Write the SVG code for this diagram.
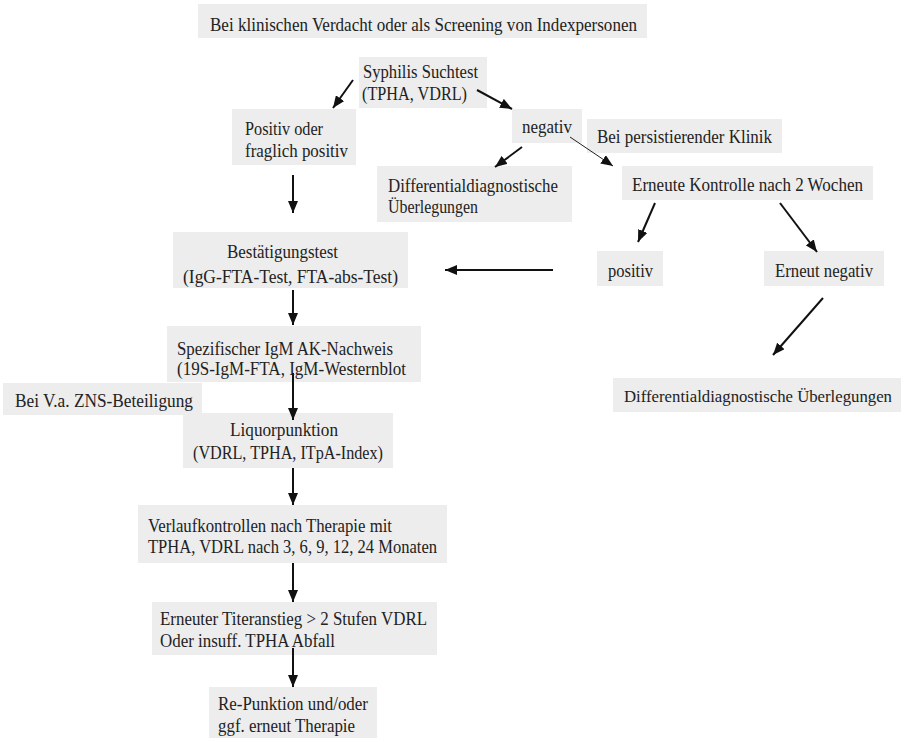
<svg xmlns="http://www.w3.org/2000/svg" width="907" height="742" viewBox="0 0 907 742">
<style>
  .bg { fill: #ffffff; }
  .box { fill: #ededed; }
  .t { font-family: "Liberation Serif", "Times New Roman", serif; font-size: 19px; fill: #222222; }
  .c { stroke: #111111; stroke-width: 2; fill: none; }
  .thin { stroke: #222222; stroke-width: 1; fill: none; }
</style>
<defs>
  <marker id="ah" viewBox="0 0 12 10" refX="12" refY="5" markerWidth="12" markerHeight="10" markerUnits="userSpaceOnUse" orient="auto">
    <path d="M0,0 L12,5 L0,10 z" fill="#111111"/>
  </marker>
</defs>
<rect class="bg" x="0" y="0" width="907" height="742"/>

<g id="title">
  <rect class="box" x="198" y="4" width="449" height="34"/>
  <text class="t" x="210" y="31" textLength="427" lengthAdjust="spacingAndGlyphs">Bei klinischen Verdacht oder als Screening von Indexpersonen</text>
</g>
<g id="suchtest">
  <rect class="box" x="359" y="57" width="128" height="51"/>
  <text class="t" x="363" y="78" textLength="115" lengthAdjust="spacingAndGlyphs">Syphilis Suchtest</text>
  <text class="t" x="362" y="100" textLength="105" lengthAdjust="spacingAndGlyphs">(TPHA, VDRL)</text>
</g>
<g id="positiv-fraglich">
  <rect class="box" x="232" y="109" width="124" height="56"/>
  <text class="t" x="245" y="135" textLength="78" lengthAdjust="spacingAndGlyphs">Positiv oder</text>
  <text class="t" x="245" y="157" textLength="103" lengthAdjust="spacingAndGlyphs">fraglich positiv</text>
</g>
<g id="negativ">
  <rect class="box" x="512" y="109" width="70" height="34"/>
  <text class="t" x="522" y="133" textLength="50" lengthAdjust="spacingAndGlyphs">negativ</text>
</g>
<g id="persistierend">
  <rect class="box" x="587" y="119" width="195" height="34"/>
  <text class="t" x="597" y="143" textLength="175" lengthAdjust="spacingAndGlyphs">Bei persistierender Klinik</text>
</g>
<g id="diff-links">
  <rect class="box" x="377" y="166" width="195" height="56"/>
  <text class="t" x="388" y="192" textLength="170" lengthAdjust="spacingAndGlyphs">Differentialdiagnostische</text>
  <text class="t" x="388" y="213" textLength="90" lengthAdjust="spacingAndGlyphs">Überlegungen</text>
</g>
<g id="kontrolle">
  <rect class="box" x="622" y="166" width="251" height="34"/>
  <text class="t" x="632" y="191" textLength="231" lengthAdjust="spacingAndGlyphs">Erneute Kontrolle nach 2 Wochen</text>
</g>
<g id="positiv">
  <rect class="box" x="597" y="251" width="66" height="35"/>
  <text class="t" x="608" y="277" textLength="45" lengthAdjust="spacingAndGlyphs">positiv</text>
</g>
<g id="erneut-negativ">
  <rect class="box" x="764" y="251" width="120" height="35"/>
  <text class="t" x="775" y="277" textLength="98" lengthAdjust="spacingAndGlyphs">Erneut negativ</text>
</g>
<g id="diff-rechts">
  <rect class="box" x="613" y="378" width="288" height="34"/>
  <text class="t" x="624" y="402" style="font-size:17.5px" textLength="268" lengthAdjust="spacingAndGlyphs">Differentialdiagnostische Überlegungen</text>
</g>
<g id="bestaetigung">
  <rect class="box" x="173" y="232" width="235" height="56"/>
  <text class="t" x="227" y="258" textLength="111" lengthAdjust="spacingAndGlyphs">Bestätigungstest</text>
  <text class="t" x="183" y="283" textLength="215" lengthAdjust="spacingAndGlyphs">(IgG-FTA-Test, FTA-abs-Test)</text>
</g>
<g id="spezifisch">
  <rect class="box" x="167" y="326" width="254" height="56"/>
  <text class="t" x="177" y="355" textLength="216" lengthAdjust="spacingAndGlyphs">Spezifischer IgM AK-Nachweis</text>
  <text class="t" x="177" y="375" textLength="229" lengthAdjust="spacingAndGlyphs">(19S-IgM-FTA, IgM-Westernblot</text>
</g>
<g id="zns">
  <rect class="box" x="3" y="383" width="199" height="32"/>
  <text class="t" x="15" y="407" textLength="178" lengthAdjust="spacingAndGlyphs">Bei V.a. ZNS-Beteiligung</text>
</g>
<g id="liquor">
  <rect class="box" x="183" y="413" width="210" height="55"/>
  <text class="t" x="230" y="436" textLength="108" lengthAdjust="spacingAndGlyphs">Liquorpunktion</text>
  <text class="t" x="193" y="459" textLength="190" lengthAdjust="spacingAndGlyphs">(VDRL, TPHA, ITpA-Index)</text>
</g>
<g id="verlauf">
  <rect class="box" x="138" y="505" width="309" height="58"/>
  <text class="t" x="148" y="532" textLength="244" lengthAdjust="spacingAndGlyphs">Verlaufkontrollen nach Therapie mit</text>
  <text class="t" x="148" y="553" textLength="289" lengthAdjust="spacingAndGlyphs">TPHA, VDRL nach 3, 6, 9, 12, 24 Monaten</text>
</g>
<g id="titeranstieg">
  <rect class="box" x="152" y="602" width="285" height="53"/>
  <text class="t" x="160" y="625" textLength="267" lengthAdjust="spacingAndGlyphs">Erneuter Titeranstieg &gt; 2 Stufen VDRL</text>
  <text class="t" x="160" y="647" textLength="175" lengthAdjust="spacingAndGlyphs">Oder insuff. TPHA Abfall</text>
</g>
<g id="repunktion">
  <rect class="box" x="209" y="687" width="168" height="51"/>
  <text class="t" x="218" y="710" textLength="150" lengthAdjust="spacingAndGlyphs">Re-Punktion und/oder</text>
  <text class="t" x="218" y="732" textLength="137" lengthAdjust="spacingAndGlyphs">ggf. erneut Therapie</text>
</g>

<g id="connectors">
  <line class="c" x1="353" y1="80" x2="333" y2="108" marker-end="url(#ah)"/>
  <line class="c" x1="477" y1="90" x2="512" y2="109" marker-end="url(#ah)"/>
  <line class="c" x1="522" y1="147" x2="495" y2="167" marker-end="url(#ah)"/>
  <line class="thin" x1="570" y1="137" x2="613" y2="166" marker-end="url(#ah)"/>
  <line class="c" x1="293" y1="175" x2="293" y2="213" marker-end="url(#ah)"/>
  <line class="c" x1="655" y1="203" x2="638" y2="242" marker-end="url(#ah)"/>
  <line class="c" x1="780" y1="203" x2="817" y2="252" marker-end="url(#ah)"/>
  <line class="c" x1="553" y1="270" x2="445" y2="270" marker-end="url(#ah)"/>
  <line class="c" x1="823" y1="298" x2="773" y2="355" marker-end="url(#ah)"/>
  <line class="c" x1="293" y1="290" x2="293" y2="325" marker-end="url(#ah)"/>
  <line class="c" x1="293" y1="373" x2="293" y2="420" marker-end="url(#ah)"/>
  <line class="c" x1="293" y1="468" x2="293" y2="505" marker-end="url(#ah)"/>
  <line class="c" x1="293" y1="563" x2="293" y2="602" marker-end="url(#ah)"/>
  <line class="c" x1="293" y1="648" x2="293" y2="687" marker-end="url(#ah)"/>
</g>
</svg>
